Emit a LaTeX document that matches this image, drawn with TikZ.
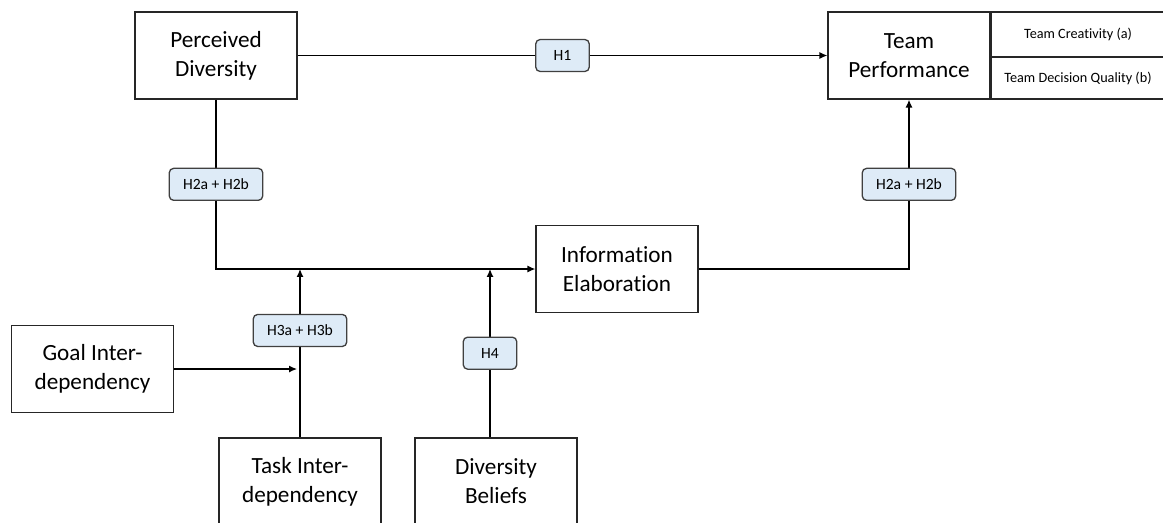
\documentclass[tikz,border=0pt]{standalone}
\usepackage{fontspec}
\setmainfont{Carlito}[Ligatures=NoCommon]
\usetikzlibrary{arrows.meta}
\definecolor{hypfill}{HTML}{DEEBF7}

\begin{document}
\begin{tikzpicture}
	[x=0.02cm,y=-0.02cm,line width=0.75pt,>={Latex[length=4.5pt,width=4pt]},
	box/.style={shape=rectangle,draw=black!85,minimum width=3.24cm,
		minimum height=1.74cm,align=center,inner sep=1pt,
		font=\fontsize{13.2}{16.4}\selectfont},
	cell/.style={shape=rectangle,draw=black!85,minimum width=3.48cm,
		inner sep=1pt,font=\fontsize{8.1}{10}\selectfont},
	hyp/.style={shape=rectangle,draw=black!75,fill=hypfill,rounded corners=2.5pt,
		minimum width=1.07cm,minimum height=0.64cm,inner sep=2pt,
		font=\fontsize{8.9}{10}\selectfont},
	wide/.style={minimum width=1.87cm}]
	\clip (0,0) rectangle (1163,522);
	
	\node[box] (pd) at (216,55.5) {Perceived\\Diversity};
	\node[box] (tp) at (909,55.5) {Team\\Performance};
	\node[cell,minimum height=0.9cm] (crea) at (1078,34.5) {Team Creativity (a)};
	\node[cell,minimum height=0.84cm] (qual) at (1078,78) {Team Decision Quality (b)};
	\node[box] (ie) at (617,269) {Information\\Elaboration};
	\node[box] (gi) at (92.5,369) {Goal Inter-\\dependency};
	\node[box] (ti) at (300,481.5) {Task Inter-\\dependency};
	\node[box] (db) at (496,481.5) {Diversity\\Beliefs};
	
	\coordinate (m1) at (300,269);
	\coordinate (m2) at (490,269);
	\coordinate (g1) at (297,369);
	
	\draw[->] (pd) -- node[hyp,pos=0.5] {H1} (tp);
	\draw[->] (pd) |- node[hyp,wide,pos=0.25] {H2a + H2b} (ie);
	\draw[->] (ie) -| node[hyp,wide,pos=0.75] {H2a + H2b} (tp);
	\draw[->] (ti) -- node[hyp,wide,pos=0.635] {H3a + H3b} (m1);
	\draw[->] (m2 |- db.north) -- node[hyp,pos=0.5] {H4} (m2);
	\draw[->] (gi) -- (g1);
\end{tikzpicture}
\end{document}
